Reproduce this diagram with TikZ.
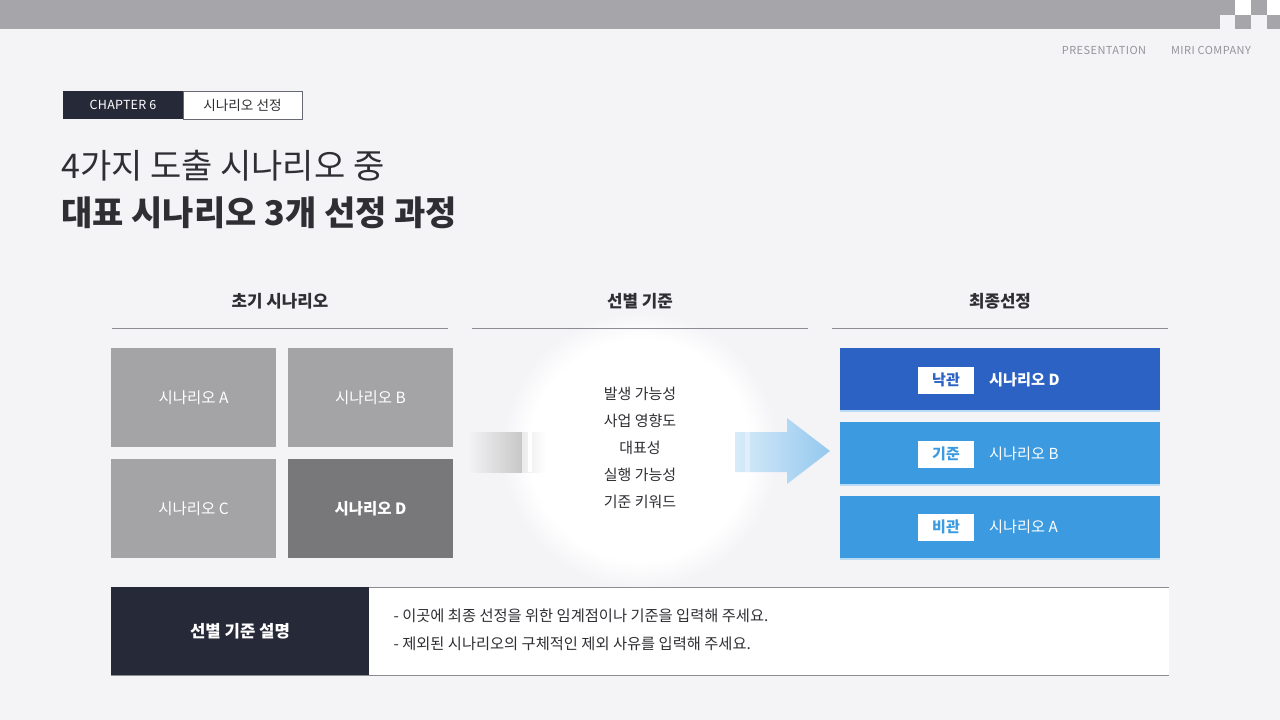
\documentclass[tikz,border=0pt]{standalone}
\usepackage{fontspec}
\setmainfont{Noto Sans CJK KR}
\usetikzlibrary{shadings}
\definecolor{bg}{HTML}{F4F4F7}
\definecolor{bar}{HTML}{A5A5AA}
\definecolor{navy}{HTML}{262A38}
\definecolor{gboxc}{HTML}{A4A4A6}
\definecolor{gboxd}{HTML}{78787A}
\definecolor{dblue}{HTML}{2B62C4}
\definecolor{lblue}{HTML}{3C9BE0}
\definecolor{pblue}{HTML}{B9DBF6}
\definecolor{txt}{HTML}{2E2E33}
\definecolor{rule}{HTML}{8C8C92}
\pgfdeclareradialshading{glow}{\pgfpoint{0bp}{0bp}}{color(0bp)=(white); color(20bp)=(white); color(25bp)=(bg); color(50bp)=(bg)}
\tikzset{
  fs/.style={font=\fontsize{#1}{#1}\selectfont},
  fsb/.style={font=\fontsize{#1}{#1}\selectfont\bfseries},
  gridbox/.style={draw=none, minimum width=165pt, minimum height=99pt, inner sep=0pt, text=white, fs=15.5},
  finalbox/.style={draw=none, minimum width=320pt, minimum height=62pt, inner sep=0pt},
  tagbox/.style={fill=white, minimum width=56pt, minimum height=27pt, inner sep=0pt, fsb=15},
  colhead/.style={text=txt, fsb=16.8},
  crit/.style={text=txt, fs=15},
  note/.style={text=txt, fs=15.3, anchor=west}
}
\begin{document}
\begin{tikzpicture}[x=1pt,y=-1pt]
\useasboundingbox (0,0) rectangle (1280,720);
\fill[bg] (0,0) rectangle (1280,720);
% top bar
\fill[bar] (0,0) rectangle (1220,29);
\fill[bar] (1220,0) rectangle (1235,15);
\fill[bar] (1235,15) rectangle (1251,29);
\fill[bar] (1251,0) rectangle (1267,15);
\fill[bar] (1267,15) rectangle (1280,29);
\fill[white] (1235,0) rectangle (1251,15);
\fill[white] (1267,0) rectangle (1280,15);
\node[text=bar!90!black, font=\fontsize{11}{11}\selectfont\addfontfeature{LetterSpace=4}] (pres) at (1104,50) {PRESENTATION};
\node[text=bar!90!black, font=\fontsize{11}{11}\selectfont\addfontfeature{LetterSpace=4}] (miri) at (1211,50) {MIRI COMPANY};
% chapter tag
\node[fill=navy, text=white, minimum width=120pt, minimum height=28pt, inner sep=0pt, font=\fontsize{12.5}{12.5}\selectfont\addfontfeature{LetterSpace=2}] (chap) at (123,105) {CHAPTER 6};
\node[fill=white, draw=navy!70, line width=0.8pt, minimum width=119pt, minimum height=28pt, inner sep=0pt, text=txt, fs=13.6] (chapname) at (242.5,105) {시나리오 선정};
% title
\node[anchor=west, text=txt, fs=34, inner sep=0pt] (t1) at (61,166) {4가지 도출 시나리오 중};
\node[anchor=west, text=txt, fsb=34, inner sep=0pt] (t2) at (61,213) {대표 시나리오 3개 선정 과정};
% glow
\shade[shading=glow] (640,450) circle (138);
% column headers
\node[colhead] (h1) at (280,301) {초기 시나리오};
\node[colhead] (h2) at (640,301) {선별 기준};
\node[colhead] (h3) at (1000,301) {최종선정};
\draw[rule, line width=0.9pt] (112,328) -- (448,328);
\draw[rule, line width=0.9pt] (472,328) -- (808,328);
\draw[rule, line width=0.9pt] (832,328) -- (1168,328);
% grid
\node[gridbox, fill=gboxc] (sa) at (193.5,397.5) {시나리오 A};
\node[gridbox, fill=gboxc] (sb) at (370.5,397.5) {시나리오 B};
\node[gridbox, fill=gboxc] (sc) at (193.5,508.5) {시나리오 C};
\node[gridbox, fill=gboxd, fsb=15.5] (sd) at (370.5,508.5) {시나리오 D};
% left grey band
\shade[left color=bg, right color=black!22] (468,432) rectangle (522,472);
\shade[left color=black!8, right color=white] (522,432) rectangle (546,472);
\fill[white] (528,432) rectangle (532,472);
% right arrow
\shade[left color=white!80!lblue, right color=lblue!55] (735,432) -- (787,432) -- (787,418) -- (830,451) -- (787,484) -- (787,472) -- (735,472) -- cycle;
\fill[white, opacity=0.35] (745,432) rectangle (750,472);
% criteria
\node[crit] (c1) at (640,394) {발생 가능성};
\node[crit] (c2) at (640,421) {사업 영향도};
\node[crit] (c3) at (640,448) {대표성};
\node[crit] (c4) at (640,475) {실행 가능성};
\node[crit] (c5) at (640,502) {기준 키워드};
% final boxes
\fill[pblue] (840,410) rectangle (1160,412);
\fill[pblue] (840,484) rectangle (1160,486);
\fill[pblue] (840,558) rectangle (1160,560);
\node[finalbox, fill=dblue] (f1) at (1000,379) {};
\node[finalbox, fill=lblue] (f2) at (1000,453) {};
\node[finalbox, fill=lblue] (f3) at (1000,527) {};
\node[tagbox, text=dblue] (tag1) at (946,380) {낙관};
\node[tagbox, text=lblue] (tag2) at (946,454) {기준};
\node[tagbox, text=lblue] (tag3) at (946,527) {비관};
\node[anchor=west, text=white, fsb=15.2, inner sep=0pt] (n1) at (989,380) {시나리오 D};
\node[anchor=west, text=white, fs=15.2, inner sep=0pt] (n2) at (989,454) {시나리오 B};
\node[anchor=west, text=white, fs=15.2, inner sep=0pt] (n3) at (989,527) {시나리오 A};
% bottom
\fill[white] (369,587) rectangle (1169,675);
\draw[rule, line width=0.9pt] (111,587) -- (1169,587);
\draw[rule, line width=0.9pt] (111,675) -- (1169,675);
\node[fill=navy, minimum width=258pt, minimum height=88pt, inner sep=0pt, text=white, fsb=16.7] (expl) at (240,631) {선별 기준 설명};
\node[note] (l1) at (390,616) {- 이곳에 최종 선정을 위한 임계점이나 기준을 입력해 주세요.};
\node[note] (l2) at (390,644) {- 제외된 시나리오의 구체적인 제외 사유를 입력해 주세요.};
\end{tikzpicture}
\end{document}
